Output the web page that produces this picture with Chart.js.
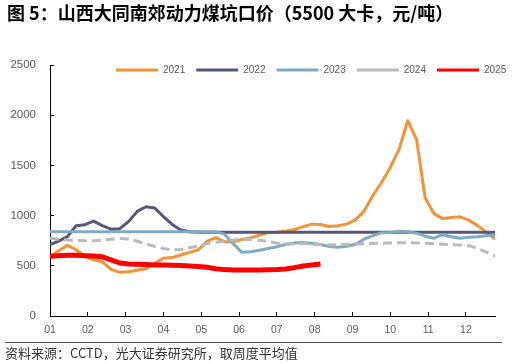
<!DOCTYPE html>
<html><head><meta charset="utf-8">
<script src="https://cdn.jsdelivr.net/npm/chart.js@4.4.1/dist/chart.umd.min.js"></script>
<style>
html,body{margin:0;padding:0;background:#fff;}
#wrap{position:relative;width:516px;height:364px;overflow:hidden;background:#fff;}
canvas{position:absolute;left:0;top:0;}
#title{position:absolute;left:7px;top:0px;font-family:'Noto Sans CJK SC';font-weight:bold;font-size:18px;line-height:24px;color:#000;white-space:nowrap;}
#rule{position:absolute;left:5px;top:342px;width:497px;height:0;border-top:1.5px solid #555;}
#src{position:absolute;left:5px;top:344px;font-family:'Noto Sans CJK SC';font-size:13px;line-height:18px;color:#333;white-space:nowrap;}
</style></head>
<body>
<div id="wrap">
<canvas id="c" width="516" height="364" style="width:516px;height:364px"></canvas>
<div id="title">图 5：山西大同南郊动力煤坑口价（5500 大卡，元/吨）</div>
<div id="rule"></div>
<div id="src">资料来源：CCTD，光大证券研究所，取周度平均值</div>
</div>
<script>
// week index (x values)
const weeks = [1,2,3,4,5,6,7,8,9,10,11,12,13,14,15,16,17,18,19,20,21,22,23,24,25,26,
               27,28,29,30,31,32,33,34,35,36,37,38,39,40,41,42,43,44,45,46,47,48,49,50,51,52];
const monthLabels = ['01','02','03','04','05','06','07','08','09','10','11','12'];
const seriesNames = ['2021','2022','2023','2024','2025'];

const v2021 = [590,650,705,660,595,560,540,465,435,440,455,470,525,575,582,608,634,660,745,780,
               740,740,762,780,805,830,835,845,862,890,915,912,892,898,915,958,1045,1200,1330,1480,
               1660,1945,1760,1175,1020,970,980,988,955,900,835,765];
const v2022 = [710,745,790,900,910,945,900,865,870,940,1042,1088,1076,990,912,856,840,833,833,833,
               833,833,833,833,833,833,833,833,833,833,833,833,833,833,833,833,833,833,833,833,
               833,833,833,833,833,833,833,833,833,833,833,833];
const v2023 = [840,840,840,840,840,840,840,840,840,840,840,840,840,840,840,840,840,840,840,840,
               815,720,634,640,655,672,690,712,728,733,725,712,692,684,695,715,765,800,830,832,
               845,840,825,795,775,810,790,775,785,790,800,805];
const v2024 = [775,765,757,752,750,750,755,765,772,768,745,718,695,672,658,662,680,698,722,735,
               745,758,766,762,755,742,728,720,717,722,716,710,707,710,714,718,720,722,725,727,
               730,730,728,724,720,715,710,707,700,675,635,598];
const v2025 = [595,600,605,604,600,597,590,560,528,517,515,513,508,508,505,502,497,493,485,470,
               462,458,458,458,458,460,463,468,482,498,508,518];

const mk = (arr) => arr.map((y, i) => ({x: weeks[i], y: y}));

// move the (top) legend so that it overlays the top of the plot area
const legendShift = {
  id: 'legendShift',
  afterLayout(chart) {
    const l = chart.legend;
    if (!l) return;
    const dx = chart.chartArea.left + 55 - l.left;
    const dy = chart.chartArea.top - 11 - l.top;
    l.left += dx; l.right += dx;
    l.top += dy; l.bottom += dy;
  }
};

const tickFont = {family: "'Liberation Sans', Arial, sans-serif", size: 11.5};

new Chart(document.getElementById('c'), {
  type: 'line',
  data: {
    datasets: [
      {label: seriesNames[0], data: mk(v2021), borderColor: '#F39236', borderWidth: 3, order: 5},
      {label: seriesNames[1], data: mk(v2022), borderColor: '#56577B', borderWidth: 3, order: 4},
      {label: seriesNames[2], data: mk(v2023), borderColor: '#7FABC2', borderWidth: 3, order: 3},
      {label: seriesNames[3], data: mk(v2024), borderColor: '#BABABA', borderWidth: 3, borderDash: [9,5], order: 2},
      {label: seriesNames[4], data: mk(v2025), borderColor: '#FF0000', borderWidth: 5, order: 1}
    ]
  },
  options: {
    responsive: false,
    animation: false,
    devicePixelRatio: 1,
    layout: {padding: {top: 34, right: 21, left: 0, bottom: 0}},
    elements: {point: {radius: 0}, line: {tension: 0, fill: false, borderCapStyle: 'butt', borderJoinStyle: 'round'}},
    plugins: {
      tooltip: {enabled: false},
      legend: {
        position: 'top',
        align: 'start',
        labels: {
          usePointStyle: true,
          pointStyle: 'line',
          pointStyleWidth: 42,
          padding: 11,
          color: '#595959',
          font: {family: "'Liberation Sans', Arial, sans-serif", size: 10},
          sort: (a, b) => a.datasetIndex - b.datasetIndex,
          generateLabels(chart) {
            const items = Chart.defaults.plugins.legend.labels.generateLabels(chart);
            items.forEach(it => { it.lineWidth = 3; });
            return items;
          }
        }
      }
    },
    scales: {
      x: {
        type: 'linear',
        min: 1, max: 52,
        afterFit(s) { s.height = 48; },
        afterBuildTicks(axis) {
          axis.ticks = monthLabels.map((_, i) => ({value: 1 + i * 52 / 12}));
        },
        grid: {drawOnChartArea: false, drawTicks: true, tickLength: -4, color: '#000'},
        border: {display: true, color: '#000', width: 1},
        ticks: {
          autoSkip: false, maxRotation: 0, padding: 12,
          color: '#595959', font: {family: "'Liberation Sans', Arial, sans-serif", size: 10.5},
          callback: (v, i) => monthLabels[i]
        }
      },
      y: {
        min: 0, max: 2500,
        afterFit(s) { s.width = 50; },
        grid: {drawOnChartArea: false, drawTicks: true, tickLength: -4, color: '#000'},
        border: {display: true, color: '#000', width: 1},
        ticks: {stepSize: 500, padding: 18, color: '#595959', font: tickFont, callback: (v) => String(v)}
      }
    }
  },
  plugins: [legendShift]
});
</script>
</body></html>
